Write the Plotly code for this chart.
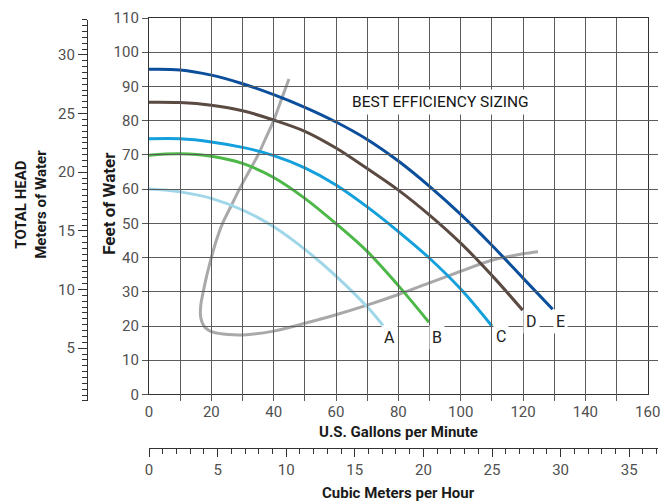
import plotly.graph_objects as go

# ---- data (GPM, feet of head) ----
curve_names = ["A", "B", "C", "D", "E"]
a_gpm = [0, 10, 20, 30, 40, 50, 60, 70, 75.2]
a_ft = [60, 59.2, 57.3, 53.9, 49, 42.4, 34.6, 25.6, 20]
b_gpm = [0, 10, 20, 30, 40, 50, 60, 70, 80, 89.8]
b_ft = [69.9, 70.3, 69.6, 67.5, 63.4, 57.3, 49.9, 41.8, 31.8, 21.1]
c_gpm = [0, 10, 20, 30, 40, 50, 60, 70, 80, 90, 100, 110]
c_ft = [74.7, 74.7, 73.8, 72.2, 69.8, 66.2, 61.2, 54.8, 47.6, 39.8, 30.8, 20]
d_gpm = [0, 10, 20, 30, 40, 50, 60, 70, 80, 90, 100, 110, 119.9]
d_ft = [85.4, 85.3, 84.5, 82.9, 80.2, 76.9, 72.0, 66.0, 59.7, 52.4, 44.2, 34.8, 24.6]
e_gpm = [0, 10, 20, 30, 40, 50, 60, 70, 80, 90, 100, 110, 120, 129.5]
e_ft = [95, 94.8, 93.3, 90.8, 87.6, 83.9, 79.6, 74.5, 68.2, 60.8, 52.6, 43.6, 34, 24.9]
best_gpm = [44.9, 42.4, 40, 37.5, 35, 32, 29, 26.3, 23.6, 21.6, 20, 18.6, 17.4, 16.6,
            16.6, 17.8, 20.5, 25.5, 30.1, 40, 50, 60, 70, 80, 90, 100, 110, 120, 124.8]
best_ft = [92.2, 86, 80, 75, 70, 65, 60, 55, 50, 45, 40, 35, 30, 26,
           22.5, 19.8, 18.2, 17.5, 17.4, 18.5, 20.8, 23.3, 26.1, 29.2, 32.6, 36, 39.2, 41.1, 41.7]
label_gpm = [77.1, 92.3, 112.8, 122.6, 131.9]
label_ft = [16.5, 16.7, 16.9, 21.3, 21.3]
x_ticks_gpm = list(range(0, 161, 20))
y_ticks_ft = list(range(0, 111, 10))

colors = ["#9fd7e9", "#4db848", "#14a0dc", "#5b4a42", "#0b4f9c"]
series = [(a_gpm, a_ft), (b_gpm, b_ft), (c_gpm, c_ft), (d_gpm, d_ft), (e_gpm, e_ft)]

W, H = 670, 502
L, R, T, B = 87, 12, 18.3, 54
PW, PH = W - L - R, H - T - B


def px(x):
    return (x - L) / PW


def py(y):
    return (H - B - y) / PH


FONT = "Roboto, Arial, sans-serif"
TICKC = "#505050"
GRIDC = "#5c5c5c"
AXC = "#333333"

fig = go.Figure()
fig.add_trace(go.Scatter(x=best_gpm, y=best_ft, mode="lines",
                         line=dict(color="#a9a9ab", width=3, shape="spline", smoothing=0.8),
                         hoverinfo="skip", showlegend=False))
for (xs, ys), col, nm in zip(series, colors, curve_names):
    fig.add_trace(go.Scatter(x=xs, y=ys, mode="lines", name=nm,
                             line=dict(color=col, width=3, shape="spline", smoothing=1.0),
                             showlegend=False))

for nm, gx, gy in zip(curve_names, label_gpm, label_ft):
    fig.add_annotation(x=gx, y=gy, xref="x", yref="y", text=nm, showarrow=False,
                       xanchor="center", yanchor="middle",
                       font=dict(family=FONT, size=16, color="#222222"),
                       bgcolor="white", borderpad=2)

fig.add_annotation(x=93.4, y=85.5, xref="x", yref="y", text="BEST EFFICIENCY SIZING",
                   xanchor="center", yanchor="middle",
                   showarrow=False, font=dict(family=FONT, size=15.5, color="#151515"),
                   bgcolor="white", borderpad=3)

TITLEF = dict(family=FONT, size=15, color="#1a1a1a")
fig.add_annotation(x=px(398), y=py(432), xref="paper", yref="paper",
                   xanchor="center", yanchor="middle",
                   text="<b>U.S. Gallons per Minute</b>", showarrow=False, font=TITLEF)
fig.add_annotation(x=px(398), y=py(493), xref="paper", yref="paper",
                   xanchor="center", yanchor="middle",
                   text="<b>Cubic Meters per Hour</b>", showarrow=False, font=TITLEF)
fig.add_annotation(x=px(109), y=py(204), xref="paper", yref="paper",
                   xanchor="center", yanchor="middle",
                   text="<b>Feet of Water</b>", textangle=-90, showarrow=False,
                   font=dict(family=FONT, size=17, color="#1a1a1a"))
fig.add_annotation(x=px(31), y=py(205), xref="paper", yref="paper",
                   xanchor="center", yanchor="middle",
                   text="<b>TOTAL HEAD<br>Meters of Water</b>", textangle=-90, showarrow=False,
                   font=TITLEF)

x0 = (149 - L) / PW
x1 = (647.7 - L) / PW
yb = (H - B - 394.5) / PH

fig.update_layout(
    width=W, height=H,
    margin=dict(l=L, r=R, t=T, b=B, autoexpand=False),
    plot_bgcolor="rgba(0,0,0,0)", paper_bgcolor="white",
    font=dict(family=FONT, color=TICKC),
    xaxis=dict(domain=[x0, x1], range=[0, 160], tickvals=x_ticks_gpm,
               showgrid=True, gridcolor=GRIDC, gridwidth=1,
               minor=dict(dtick=10, showgrid=True, gridcolor=GRIDC, gridwidth=1),
               showline=True, linecolor=AXC, linewidth=1.2, mirror=True,
               ticks="outside", ticklen=3, tickcolor="rgba(0,0,0,0)",
               tickfont=dict(family=FONT, size=15, color=TICKC),
               zeroline=False, anchor="y", fixedrange=True),
    yaxis=dict(domain=[yb, 1], range=[0, 110], tickvals=y_ticks_ft,
               showgrid=True, gridcolor=GRIDC, gridwidth=1,
               showline=True, linecolor=AXC, linewidth=1.2, mirror=True,
               ticks="outside", ticklen=6, tickcolor="#555555",
               tickfont=dict(family=FONT, size=15, color=TICKC),
               zeroline=False, anchor="x", fixedrange=True),
    xaxis2=dict(domain=[x0, 1], range=[0, (658 - 149) / 13.72], anchor="free", position=0,
                side="bottom", showgrid=False, zeroline=False,
                showline=True, linecolor=AXC, linewidth=1.2,
                ticks="outside", ticklen=8, tickcolor=AXC, tickwidth=1.2,
                tick0=0, dtick=5,
                minor=dict(dtick=1, ticklen=5, tickcolor=AXC, ticks="outside", showgrid=False),
                tickfont=dict(family=FONT, size=15, color=TICKC), fixedrange=True),
    yaxis2=dict(domain=[(H - B - 401) / PH, (H - B - 20) / PH], range=[0.5, 33.0],
                anchor="free", position=0, side="left", showgrid=False, zeroline=False,
                showline=True, linecolor=AXC, linewidth=1.2,
                ticks="outside", ticklen=9, tickcolor=AXC, tickwidth=1.2,
                tick0=0, dtick=5,
                minor=dict(dtick=0.5, ticklen=4.5, tickcolor=AXC, ticks="outside", showgrid=False),
                tickfont=dict(family=FONT, size=15, color=TICKC), fixedrange=True),
)

# invisible helper traces so the secondary scales are drawn
fig.add_trace(go.Scatter(x=[], y=[], xaxis="x2", yaxis="y", showlegend=False, hoverinfo="skip"))
fig.add_trace(go.Scatter(x=[], y=[], xaxis="x", yaxis="y2", showlegend=False, hoverinfo="skip"))

fig.write_html("out.html", config={"displayModeBar": False},
               post_script="document.body.style.margin='0px';")
